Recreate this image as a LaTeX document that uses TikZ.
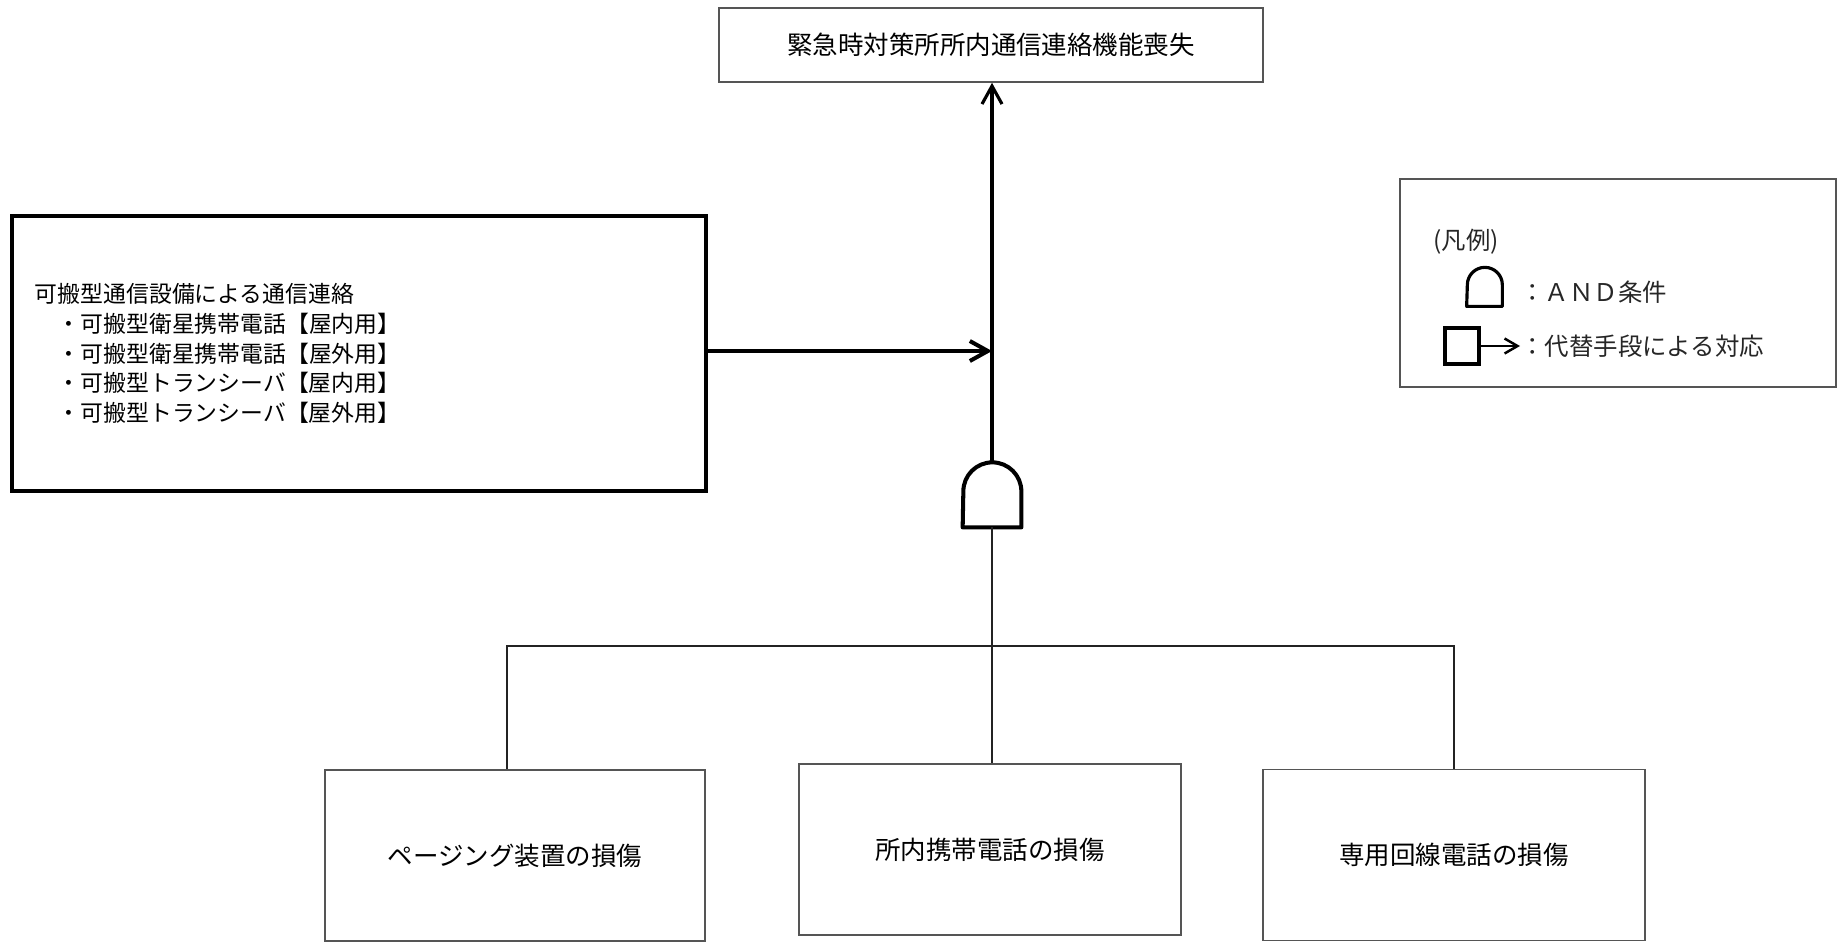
\documentclass[tikz,border=0pt]{standalone}
\usepackage{fontspec}
\setmainfont{Noto Sans CJK JP}
\usepackage{tikz}
\usetikzlibrary{arrows.meta,shapes,positioning}
\usepackage{xcolor}
\definecolor{fbgray}{RGB}{85,85,85}
\definecolor{fbline}{RGB}{35,35,35}
\tikzstyle{event} = [rectangle, minimum width=7.6cm, minimum height=3.42cm, text centered, draw=fbgray, line width=0.9pt, inner sep=0pt, font=\fontsize{14.5}{17}\selectfont]
\tikzstyle{backup} = [rectangle, minimum width=13.88cm, minimum height=5.5cm, text width=12.96cm, align=left, inner xsep=0.46cm, draw=black, line width=2.3pt, font=\fontsize{13}{17}\selectfont]
\tikzstyle{legendtext} = [anchor=west, inner sep=0pt, text=black!85, font=\fontsize{13.9}{16}\selectfont]
\tikzstyle{gateline} = [line width=2.3pt, line join=round]
\tikzstyle{link} = [line width=1.1pt, color=fbline]
\tikzstyle{arrow} = [line width=1.8pt, -{Straight Barb[length=0.36cm, width=0.4cm]}]

\begin{document}
\begin{tikzpicture}
\useasboundingbox (0,0) rectangle (36.74,-18.84);
\node (loss) [event, minimum width=10.88cm, minimum height=1.48cm] at (19.82,-0.9) {緊急時対策所所内通信連絡機能喪失};
\node (portable) [backup] at (7.18,-7.07) {可搬型通信設備による通信連絡\\
\hspace*{1em}・可搬型衛星携帯電話【屋内用】\\
\hspace*{1em}・可搬型衛星携帯電話【屋外用】\\
\hspace*{1em}・可搬型トランシーバ【屋内用】\\
\hspace*{1em}・可搬型トランシーバ【屋外用】};
\node (gate) [minimum width=1.16cm, minimum height=1.3cm, inner sep=0pt] at (19.84,-9.89) {};
\draw[gateline] (gate.south west) -- (gate.south east) -- ++(0,0.72) arc[start angle=0, end angle=180, radius=0.58] -- cycle;

\node (paging) [event] at (10.3,-17.11) {ページング装置の損傷};
\node (mobile) [event, minimum width=7.64cm] at (19.8,-16.99) {所内携帯電話の損傷};
\node (dedicated) [event, minimum width=7.64cm] at (29.08,-17.1) {専用回線電話の損傷};
\coordinate (bar) at (19.84,-12.92);

\draw[arrow] (gate.north) -- (gate.north |- loss.south);
\draw[arrow, line width=2.3pt] ([yshift=0.05cm]portable.east) -- ([yshift=0.05cm]portable.east -| gate.north);
\draw[link, line width=1.4pt] (gate.south) -- (gate.south |- mobile.north);
\draw[link] ([xshift=-0.16cm]paging.north) |- (bar) -| (dedicated.north);

\node (legend) [rectangle, draw=fbgray, line width=0.9pt, minimum width=8.72cm, minimum height=4.16cm] at (32.36,-5.66) {};
\node (legendtitle) [legendtext] at (28.66,-4.84) {(凡例)};
\node (keygate) [minimum width=0.7cm, minimum height=0.78cm, inner sep=0pt] at (29.69,-5.73) {};
\draw[gateline, line width=1.8pt] (keygate.south west) -- (keygate.south east) -- ++(0,0.43) arc[start angle=0, end angle=180, radius=0.35] -- cycle;
\node (keyand) [legendtext] at (30.4,-5.84) {：ＡＮＤ条件};
\node (keysquare) [rectangle, draw, line width=1.8pt, minimum width=0.68cm, minimum height=0.72cm, inner sep=0pt] at (29.24,-6.92) {};
\node (keyalt) [legendtext] at (30.4,-6.92) {：代替手段による対応};
\draw[arrow, line width=1.4pt, -{Straight Barb[length=0.26cm, width=0.3cm]}] (keysquare.east) -- (keyalt.west);
\end{tikzpicture}
\end{document}
